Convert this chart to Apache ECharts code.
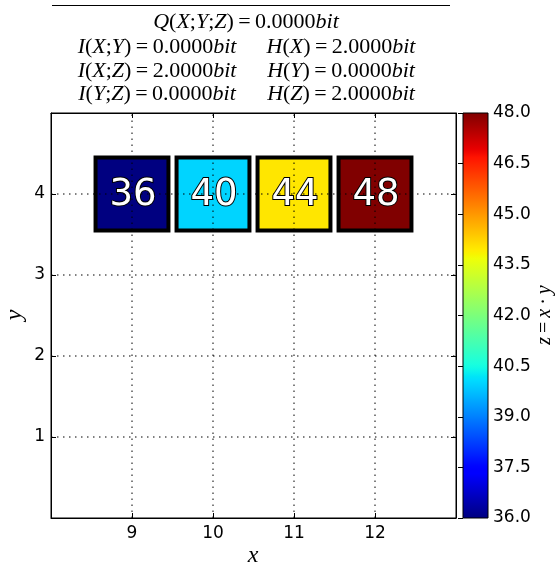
<!DOCTYPE html>
<html><head><meta charset="utf-8">
<script src="https://cdn.jsdelivr.net/npm/echarts@6/dist/echarts.min.js"></script>
<style>html,body{margin:0;padding:0;background:#fff}#c{width:555px;height:569px}</style>
</head><body><div id="c"></div>
<script>
// ---- data ----
const xValues = [9, 10, 11, 12];
const yValues = [4, 4, 4, 4];
const zValues = [36, 40, 44, 48];
const xRange = [8, 13];
const yRange = [0, 5];
const zRange = [36, 48];
const zTickStep = 1.5;
const xGridTicks = [9, 10, 11, 12];
const yGridTicks = [1, 2, 3, 4];
const xName = 'x';
const yName = 'y';
const zName = ['z', 'x', 'y'];
const titleLine1 = ['Q', 'X;Y;Z', '0.0000'];
const leftInfo = [['X;Y', '0.0000'], ['X;Z', '2.0000'], ['Y;Z', '0.0000']];
const rightInfo = [['X', '2.0000'], ['Y', '0.0000'], ['Z', '2.0000']];

// ---- jet colormap ----
function interp(t, pts) {
  for (let i = 1; i < pts.length; i++) {
    if (t <= pts[i][0]) {
      const a = pts[i - 1], b = pts[i];
      return a[1] + (b[1] - a[1]) * (t - a[0]) / (b[0] - a[0]);
    }
  }
  return pts[pts.length - 1][1];
}
function jet(t) {
  const r = interp(t, [[0, 0], [0.35, 0], [0.66, 1], [0.89, 1], [1, 0.5]]);
  const g = interp(t, [[0, 0], [0.125, 0], [0.375, 1], [0.64, 1], [0.91, 0], [1, 0]]);
  const b = interp(t, [[0, 0.5], [0.11, 1], [0.34, 1], [0.65, 0], [1, 0]]);
  return 'rgb(' + Math.round(r * 255) + ',' + Math.round(g * 255) + ',' + Math.round(b * 255) + ')';
}
const N = 101;
const jetColors = [];
const jetStops = [];
for (let i = 0; i < N; i++) {
  const t = i / (N - 1);
  jetColors.push(jet(t));
  jetStops.push({ offset: 1 - t, color: jet(t) });
}

const serif = 'Liberation Serif';
const sans = 'DejaVu Sans';
const rich = {
  i: { fontFamily: serif, fontStyle: 'italic', fontSize: 22, color: '#000' },
  r: { fontFamily: serif, fontSize: 22, color: '#000' }
};
const richCb = {
  i: { fontFamily: serif, fontStyle: 'italic', fontSize: 20, color: '#000' },
  r: { fontFamily: serif, fontSize: 20, color: '#000' }
};
function vars(s) {
  return s.split(';').map(v => '{i|' + v + '}').join('{r|;}');
}
const EQ = '\u2009=\u2009';
function line1() {
  return '{i|' + titleLine1[0] + '}{r|(}' + vars(titleLine1[1]) + '{r|)' + EQ + titleLine1[2] + '}{i|bit}';
}
function leftText(k) {
  return '{i|I}{r|(}' + vars(leftInfo[k][0]) + '{r|)' + EQ + leftInfo[k][1] + '}{i|bit}';
}
function rightText(k) {
  return '{i|H}{r|(}' + vars(rightInfo[k][0]) + '{r|)' + EQ + rightInfo[k][1] + '}{i|bit}';
}

const graphics = [
  { type: 'line', shape: { x1: 52, y1: 5.5, x2: 450, y2: 5.5 }, style: { stroke: '#000', lineWidth: 1 } },
  { type: 'text', style: { text: line1(), rich: rich, x: 246, y: 22, align: 'center', verticalAlign: 'middle' } },
  { type: 'text', x: 253, y: 556, style: { text: xName, font: 'italic 24px "Liberation Serif"', fill: '#000', align: 'center', verticalAlign: 'middle' } },
  { type: 'text', x: 15, y: 315, rotation: Math.PI / 2, style: { text: yName, font: 'italic 24px "Liberation Serif"', fill: '#000', align: 'center', verticalAlign: 'middle' } },
  { type: 'text', x: 545, y: 315, rotation: Math.PI / 2, style: { text: '{i|' + zName[0] + '}{r|\u2009=\u2009}{i|' + zName[1] + '}{r|\u2009·\u2009}{i|' + zName[2] + '}', rich: richCb, align: 'center', verticalAlign: 'middle' } }
];
const rowY = [47, 71, 94];
for (let k = 0; k < 3; k++) {
  graphics.push({ type: 'text', style: { text: leftText(k), rich: rich, x: 157, y: rowY[k], align: 'center', verticalAlign: 'middle' } });
  graphics.push({ type: 'text', style: { text: rightText(k), rich: rich, x: 341, y: rowY[k], align: 'center', verticalAlign: 'middle' } });
}

const cells = xValues.map((x, i) => [x, yValues[i], zValues[i]]);
const gridLineData = xGridTicks.map(v => [0, v]).concat(yGridTicks.map(v => [1, v]));

function cellRect(api) {
  const x = api.value(0), y = api.value(1);
  const p0 = api.coord([x - 0.45, y + 0.45]);
  const p1 = api.coord([x + 0.45, y - 0.45]);
  return { p0: p0, p1: p1 };
}

const chart = echarts.init(document.getElementById('c'), null, { renderer: 'canvas' });
const tickLabel = { color: '#000', fontFamily: sans, fontSize: 17 };
const option = {
  animation: false,
  backgroundColor: '#fff',
  graphic: graphics,
  grid: [
    { left: 51, top: 113, width: 405, height: 405, show: true, borderColor: '#000', borderWidth: 1, backgroundColor: 'transparent', containLabel: false, outerBoundsMode: 'none' },
    { left: 463, top: 113, width: 25, height: 405, containLabel: false, outerBoundsMode: 'none' }
  ],
  visualMap: {
    show: false, type: 'continuous', min: zRange[0], max: zRange[1], dimension: 2, seriesIndex: 0,
    inRange: { color: jetColors }
  },
  xAxis: [
    {
      gridIndex: 0, type: 'value', min: xRange[0], max: xRange[1], interval: 1,
      axisLine: { show: true, onZero: false, lineStyle: { color: '#000' } },
      axisTick: { inside: true, length: 5, lineStyle: { color: '#000' } },
      axisLabel: Object.assign({ margin: 7, formatter: v => (v === xRange[0] || v === xRange[1]) ? '' : String(v) }, tickLabel),
      splitLine: { show: false }
    },
    {
      gridIndex: 0, type: 'value', min: xRange[0], max: xRange[1], interval: 1, position: 'top',
      axisLine: { show: true, onZero: false, lineStyle: { color: '#000' } },
      axisTick: { inside: true, length: 5, lineStyle: { color: '#000' } },
      axisLabel: { show: false }, splitLine: { show: false }
    },
    { gridIndex: 1, type: 'value', min: 0, max: 1, show: false }
  ],
  yAxis: [
    {
      gridIndex: 0, type: 'value', min: yRange[0], max: yRange[1], interval: 1,
      axisLine: { show: true, onZero: false, lineStyle: { color: '#000' } },
      axisTick: { inside: true, length: 5, lineStyle: { color: '#000' } },
      axisLabel: Object.assign({ margin: 6, formatter: v => (v === yRange[0] || v === yRange[1]) ? '' : String(v) }, tickLabel),
      splitLine: { show: false }
    },
    {
      gridIndex: 0, type: 'value', min: yRange[0], max: yRange[1], interval: 1, position: 'right',
      axisLine: { show: true, onZero: false, lineStyle: { color: '#000' } },
      axisTick: { inside: true, length: 5, lineStyle: { color: '#000' } },
      axisLabel: { show: false }, splitLine: { show: false }
    },
    {
      gridIndex: 1, type: 'value', min: zRange[0], max: zRange[1], interval: zTickStep, position: 'right',
      axisLine: { show: false },
      axisTick: { inside: true, length: 5, lineStyle: { color: '#000' } },
      axisLabel: Object.assign({ margin: 5, formatter: v => v.toFixed(1) }, tickLabel),
      splitLine: { show: false }
    }
  ],
  series: [
    {
      type: 'custom', xAxisIndex: 0, yAxisIndex: 0, data: cells, z: 2,
      renderItem: function (params, api) {
        const r = cellRect(api);
        return { type: 'rect', shape: { x: r.p0[0], y: r.p0[1], width: r.p1[0] - r.p0[0], height: r.p1[1] - r.p0[1] },
          style: { fill: api.visual('color'), stroke: '#000', lineWidth: 4 } };
      }
    },
    {
      type: 'custom', xAxisIndex: 0, yAxisIndex: 0, data: gridLineData, z: 4, silent: true,
      renderItem: function (params, api) {
        const dir = api.value(0), v = api.value(1);
        let a, b;
        if (dir === 0) { a = api.coord([v, yRange[0]]); b = api.coord([v, yRange[1]]); }
        else { a = api.coord([xRange[0], v]); b = api.coord([xRange[1], v]); }
        const x1 = Math.round(a[0]), y1 = Math.round(a[1]), x2 = Math.round(b[0]), y2 = Math.round(b[1]);
        return { type: 'line', shape: { x1: x1, y1: y1, x2: x2, y2: y2 },
          style: { stroke: '#000', lineWidth: 1, lineDash: [1.5, 4.5] } };
      }
    },
    {
      type: 'custom', xAxisIndex: 0, yAxisIndex: 0, data: cells, z: 10,
      renderItem: function (params, api) {
        const r = cellRect(api);
        return { type: 'text', style: { text: String(api.value(2)), x: (r.p0[0] + r.p1[0]) / 2 + 1, y: (r.p0[1] + r.p1[1]) / 2 + 1,
          align: 'center', verticalAlign: 'middle', fill: '#fff', stroke: '#000', lineWidth: 2,
          fontFamily: sans, fontSize: 37 } };
      }
    },
    {
      type: 'custom', xAxisIndex: 2, yAxisIndex: 2, data: [[zRange[0], zRange[1]]], z: 1,
      renderItem: function (params, api) {
        const p0 = api.coord([0, api.value(1)]);
        const p1 = api.coord([1, api.value(0)]);
        return {
          type: 'rect', shape: { x: p0[0], y: p0[1], width: p1[0] - p0[0], height: p1[1] - p0[1] },
          style: { fill: new echarts.graphic.LinearGradient(0, 0, 0, 1, jetStops), stroke: '#000', lineWidth: 1 }
        };
      }
    }
  ]
};
chart.setOption(option);
</script>
</body></html>
